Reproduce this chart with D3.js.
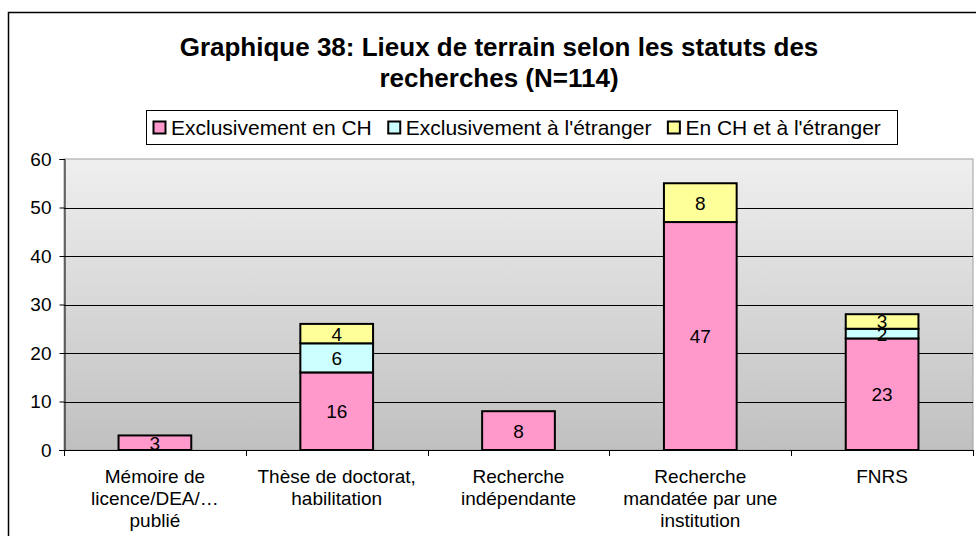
<!DOCTYPE html>
<html>
<head>
<meta charset="utf-8">
<script src="https://cdn.jsdelivr.net/npm/d3@7"></script>
<style>
  html, body { margin: 0; padding: 0; background: #fff; }
  svg { display: block; font-family: Arial, "Liberation Sans", sans-serif; }
</style>
</head>
<body>
<svg id="chart" width="976" height="536"></svg>
<script>
// Research status categories (x-axis labels, split across lines)
const categories = [
  ["Mémoire de", "licence/DEA/…", "publié"],
  ["Thèse de doctorat,", "habilitation"],
  ["Recherche", "indépendante"],
  ["Recherche", "mandatée par une", "institution"],
  ["FNRS"]
];
const seriesNames = ["Exclusivement en CH", "Exclusivement à l'étranger", "En CH et à l'étranger"];
const valuesCH = [3, 16, 8, 47, 23];
const valuesAbroad = [0, 6, 0, 0, 2];
const valuesBoth = [0, 4, 0, 8, 3];
const yTicks = [0, 10, 20, 30, 40, 50, 60];
const seriesColors = ["#ff99cc", "#ccffff", "#ffff99"];

const svg = d3.select("#chart");
const W = 976, H = 536;
const plot = { left: 64, right: 973, top: 159, bottom: 450 };
const FS = 19;

// Outer chart frame (runs off the right and bottom edges)
svg.append("rect")
  .attr("x", 8.5).attr("y", 12.5)
  .attr("width", W + 10).attr("height", H + 10)
  .attr("fill", "#fff").attr("stroke", "#000").attr("stroke-width", 1.5);

// Title
const title = svg.append("text")
  .attr("text-anchor", "middle")
  .attr("font-size", 26).attr("font-weight", "bold");
title.append("tspan").attr("x", 499).attr("y", 56).text("Graphique 38: Lieux de terrain selon les statuts des");
title.append("tspan").attr("x", 499).attr("y", 87).text("recherches (N=114)");

// Scales
const x = d3.scaleBand()
  .domain(d3.range(categories.length))
  .range([plot.left, plot.right])
  .paddingInner(0.6).paddingOuter(0.3);
const xBand = d3.scaleBand()
  .domain(d3.range(categories.length))
  .range([plot.left, plot.right]);
const y = d3.scaleLinear().domain([0, 60]).range([plot.bottom, plot.top]);

// Plot background gradient
const defs = svg.append("defs");
const grad = defs.append("linearGradient")
  .attr("id", "plotBg").attr("x1", 0).attr("y1", 0).attr("x2", 0).attr("y2", 1);
grad.append("stop").attr("offset", "0%").attr("stop-color", "#efefef");
grad.append("stop").attr("offset", "100%").attr("stop-color", "#c0c0c0");

svg.append("rect")
  .attr("x", plot.left).attr("y", plot.top)
  .attr("width", plot.right - plot.left).attr("height", plot.bottom - plot.top)
  .attr("fill", "url(#plotBg)")
  .attr("stroke", "#a0a0a0").attr("stroke-width", 1);

// Horizontal gridlines
svg.append("g")
  .selectAll("line")
  .data(yTicks.filter(t => t > 0 && t < 60))
  .join("line")
  .attr("x1", plot.left).attr("x2", plot.right)
  .attr("y1", d => Math.round(y(d)) + 0.5).attr("y2", d => Math.round(y(d)) + 0.5)
  .attr("stroke", "#000").attr("stroke-width", 1);

// Y axis
const yAxis = svg.append("g")
  .attr("transform", `translate(${plot.left + 0.5},0)`)
  .call(d3.axisLeft(y).tickValues(yTicks).tickSize(5).tickPadding(8));
yAxis.select(".domain").attr("stroke", "#000");
yAxis.selectAll(".tick line").attr("stroke", "#000");
yAxis.selectAll("text").attr("font-size", FS).attr("fill", "#000")
  .attr("font-family", "Arial, 'Liberation Sans', sans-serif");

// X axis line and category ticks
svg.append("line")
  .attr("x1", plot.left - 5).attr("x2", plot.right)
  .attr("y1", plot.bottom + 0.5).attr("y2", plot.bottom + 0.5)
  .attr("stroke", "#000");
svg.append("g")
  .selectAll("line")
  .data(d3.range(categories.length + 1))
  .join("line")
  .attr("x1", i => Math.round(plot.left + i * xBand.bandwidth()) + 0.5)
  .attr("x2", i => Math.round(plot.left + i * xBand.bandwidth()) + 0.5)
  .attr("y1", plot.bottom).attr("y2", plot.bottom + 6)
  .attr("stroke", "#000");

// Category labels
const xl = svg.append("g").attr("font-size", FS).attr("text-anchor", "middle");
categories.forEach((lines, i) => {
  const cx = xBand(i) + xBand.bandwidth() / 2;
  const t = xl.append("text");
  lines.forEach((ln, j) => {
    t.append("tspan").attr("x", cx).attr("y", 483 + j * 22).text(ln);
  });
});

// Stacked bars
const stackData = categories.map((c, i) => ({ i, ch: valuesCH[i], abroad: valuesAbroad[i], both: valuesBoth[i] }));
const stack = d3.stack().keys(["ch", "abroad", "both"]);
const layers = stack(stackData);

const barG = svg.append("g");
layers.forEach((layer, k) => {
  barG.append("g")
    .selectAll("rect")
    .data(layer.filter(d => d[1] - d[0] > 0))
    .join("rect")
    .attr("x", d => x(d.data.i))
    .attr("y", d => y(d[1]))
    .attr("width", x.bandwidth())
    .attr("height", d => y(d[0]) - y(d[1]))
    .attr("fill", seriesColors[k])
    .attr("stroke", "#000").attr("stroke-width", 2);
});

// Value labels
const lbl = svg.append("g").attr("font-size", FS).attr("text-anchor", "middle").attr("fill", "#000");
layers.forEach(layer => {
  lbl.selectAll(null)
    .data(layer.filter(d => d[1] - d[0] > 0))
    .join("text")
    .attr("x", d => x(d.data.i) + x.bandwidth() / 2)
    .attr("y", d => (y(d[0]) + y(d[1])) / 2 + 7)
    .text(d => d[1] - d[0]);
});

// Legend: swatch + label items laid out left to right inside a framed box
const legend = svg.append("g");
legend.append("rect")
  .attr("x", 146.5).attr("y", 110.5).attr("width", 751).attr("height", 34)
  .attr("fill", "#fff").attr("stroke", "#000");
let cursor = 153;
seriesNames.forEach((name, k) => {
  legend.append("rect")
    .attr("x", cursor + 0.5).attr("y", 121.5).attr("width", 12).attr("height", 12)
    .attr("fill", seriesColors[k]).attr("stroke", "#000").attr("stroke-width", 2);
  const t = legend.append("text")
    .attr("x", cursor + 18).attr("y", 135)
    .attr("font-size", 21).text(name);
  cursor += 18 + t.node().getComputedTextLength() + 16;
});
</script>
</body>
</html>
